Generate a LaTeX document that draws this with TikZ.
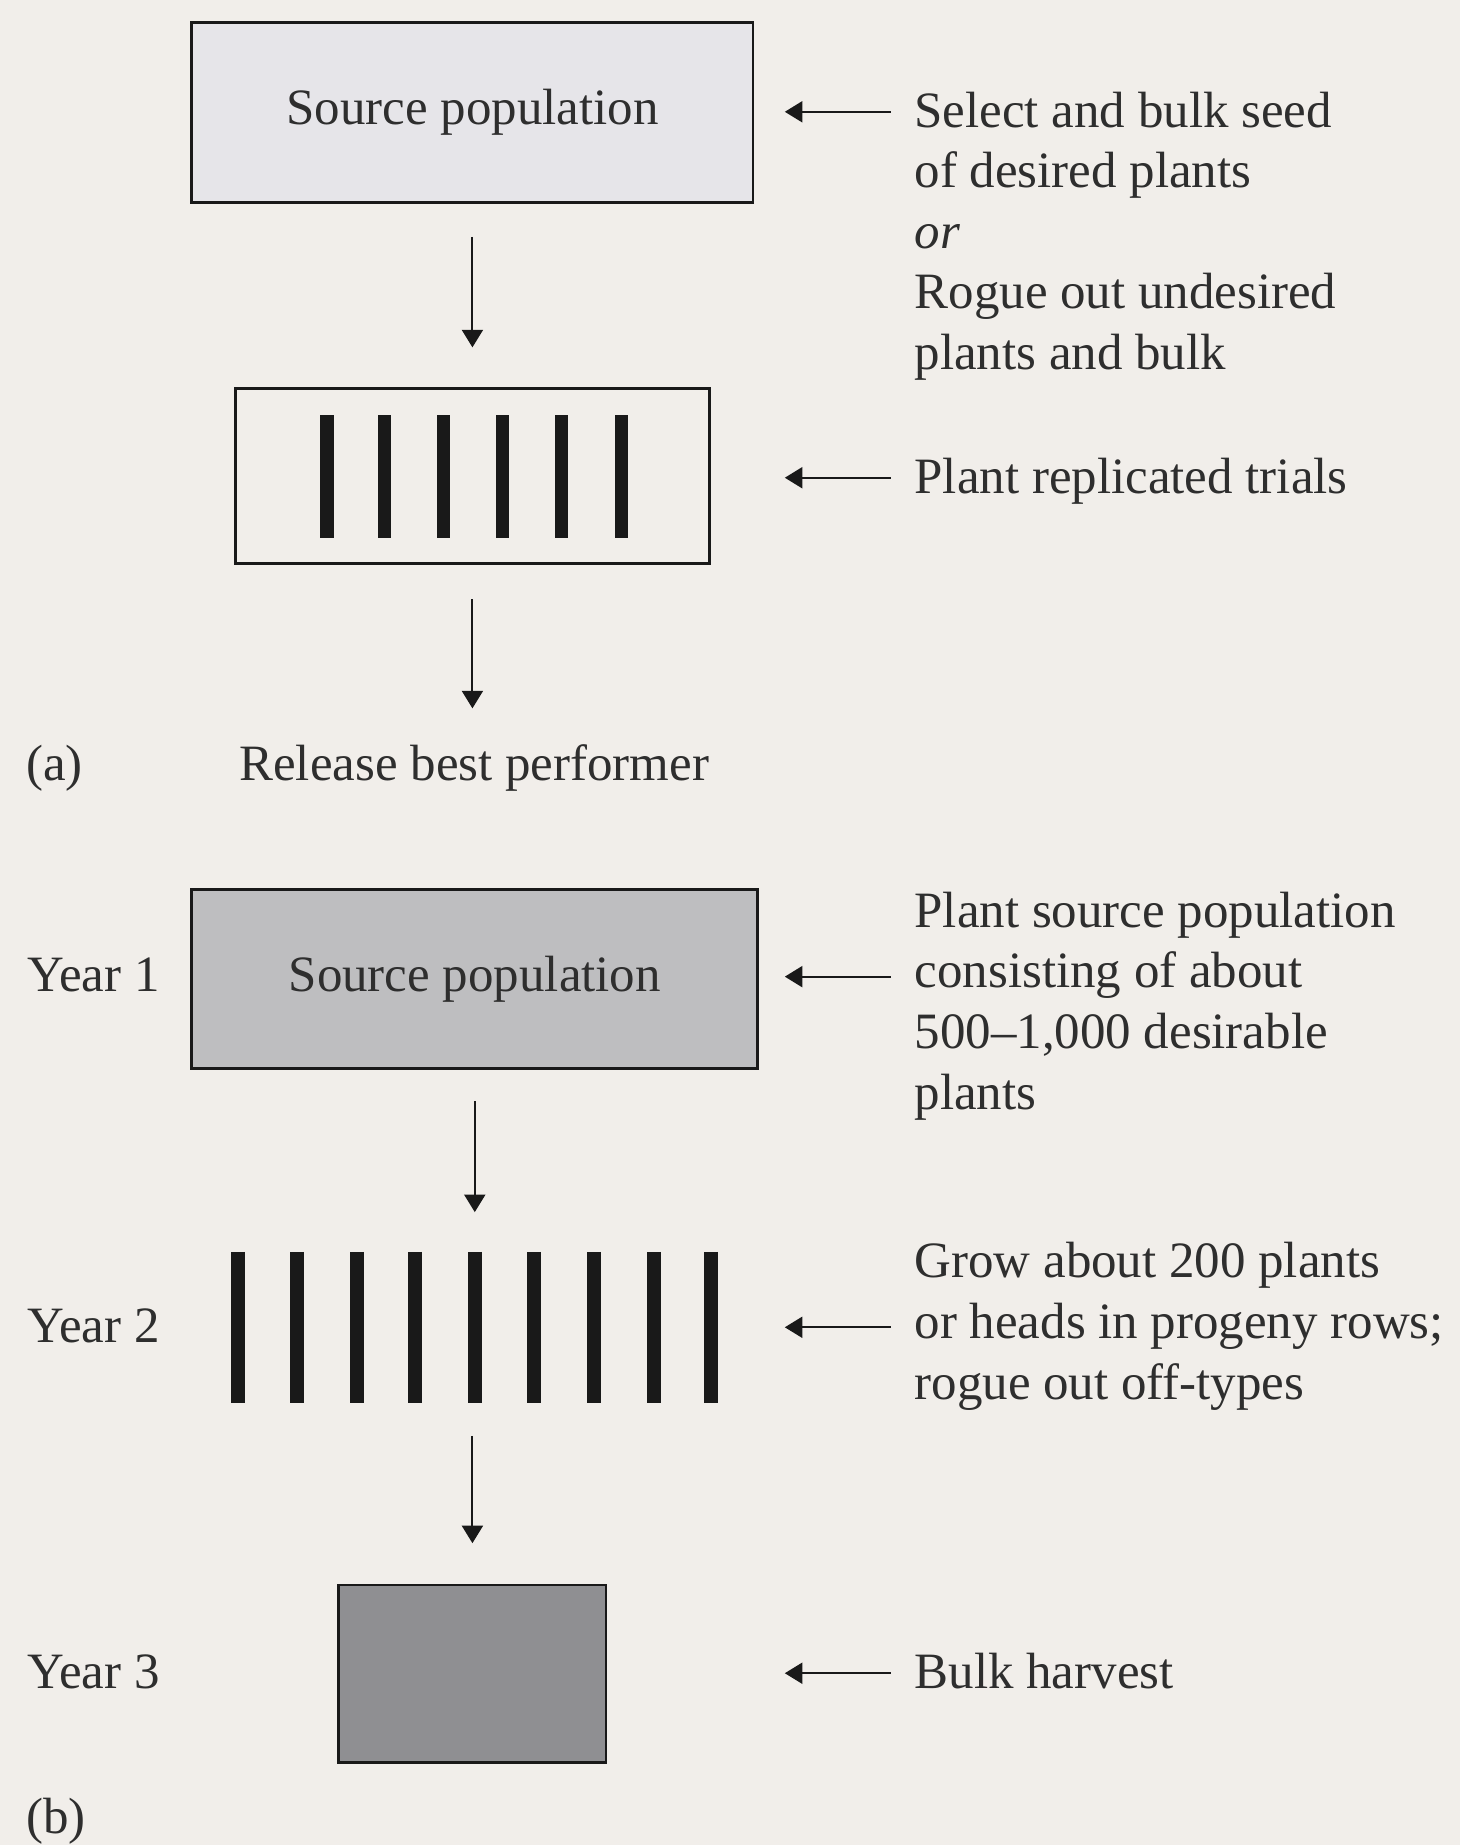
\documentclass[tikz,border=0pt]{standalone}
\usepackage{fontspec}
\setmainfont{Liberation Serif}
\usetikzlibrary{arrows.meta}
\definecolor{bg}{HTML}{F1EEEA}
\definecolor{fillA}{HTML}{E6E5E9}
\definecolor{fillB}{HTML}{BEBEC0}
\definecolor{fillC}{HTML}{8F8F92}
\definecolor{ink}{HTML}{2E2E2E}
\newcommand{\mylines}[1]{\begin{tabular}[t]{@{}l@{}}#1\end{tabular}}
\begin{document}
\begin{tikzpicture}[x=0.6697pt,y=-0.6697pt,
  every node/.style={font=\fontsize{29}{34.5}\selectfont, text=ink, inner sep=0pt},
  box/.style={draw=black!90, line width=1.6pt, rectangle},
  arr/.style={-{Triangle[width=12pt,length=10pt]}, line width=1.1pt, draw=black!90},
  barA/.style={line width=7.6pt, draw=black!90},
  barB/.style={line width=8pt, draw=black!90},
  lbl/.style={anchor=base west},
]
\fill[bg] (0,0) rectangle (1241,1568);
\useasboundingbox (0,0) rectangle (1241,1568);

% ---------- (a) ----------
\node[box, fill=fillA, minimum width=319.4pt, minimum height=102.5pt] (b1) at (401.5,95.5) {Source population};
\node[box, fill=bg, minimum width=269.9pt, minimum height=99.8pt] (b2) at (401.5,404.5) {};
\foreach \x in {278,327,377,427,477,528} \draw[barA] (\x,353) -- (\x,457);
\coordinate (relTip) at (401.5,602);
\node[anchor=base] (rel) at (403,663) {Release best performer};
\node[lbl] (la) at (22,663) {(a)};
\draw[arr, shorten <=18.8pt, shorten >=22.5pt] (b1.south) -- (b2.north);
\draw[arr, shorten <=19.4pt] (b2.south) -- (relTip);

\node[lbl] (tA1) at (777,108) {\mylines{Select and bulk seed\\ of desired plants\\ \textit{or}\\ Rogue out undesired\\ plants and bulk}};
\node[lbl] (tA2) at (777,419) {Plant replicated trials};
\coordinate (pA1) at (667,95);
\coordinate (pA2) at (667,406);
\draw[arr, shorten <=13.4pt] (tA1.west |- pA1) -- (pA1);
\draw[arr, shorten <=13.4pt] (tA2.west |- pA2) -- (pA2);

% ---------- (b) ----------
\node[box, fill=fillB, minimum width=322.1pt, minimum height=101.8pt] (b3) at (403.5,832) {Source population};
\node[minimum width=277pt, minimum height=85.7pt] (bars) at (403.5,1128) {};
\foreach \x in {202,252.5,303,353,403.5,454,504.5,555.5,604.5} \draw[barB] (\x,1064) -- (\x,1192);
\node[box, fill=fillC, minimum width=152pt, minimum height=101.1pt] (b4) at (401.5,1422.5) {};
\draw[arr, shorten <=18pt, shorten >=22.5pt] (b3.south) -- (b3.south |- bars.north);
\draw[arr, shorten <=18.8pt, shorten >=23pt] (b4.north |- bars.south) -- (b4.north);

\node[lbl] (y1) at (23,843) {Year 1};
\node[lbl] (y2) at (23,1141) {Year 2};
\node[lbl] (y3) at (23,1435) {Year 3};
\node[lbl] (lb) at (22,1558) {(b)};

\node[lbl] (tB1) at (777,788) {\mylines{Plant source population\\ consisting of about\\ 500--1,000 desirable\\ plants}};
\node[lbl] (tB2) at (777,1086) {\mylines{Grow about 200 plants\\ or heads in progeny rows;\\ rogue out off-types}};
\node[lbl] (tB3) at (777,1435) {Bulk harvest};
\coordinate (pB1) at (667,830);
\coordinate (pB2) at (667,1128);
\coordinate (pB3) at (667,1422);
\draw[arr, shorten <=13.4pt] (tB1.west |- pB1) -- (pB1);
\draw[arr, shorten <=13.4pt] (tB2.west |- pB2) -- (pB2);
\draw[arr, shorten <=13.4pt] (tB3.west |- pB3) -- (pB3);
\end{tikzpicture}
\end{document}
